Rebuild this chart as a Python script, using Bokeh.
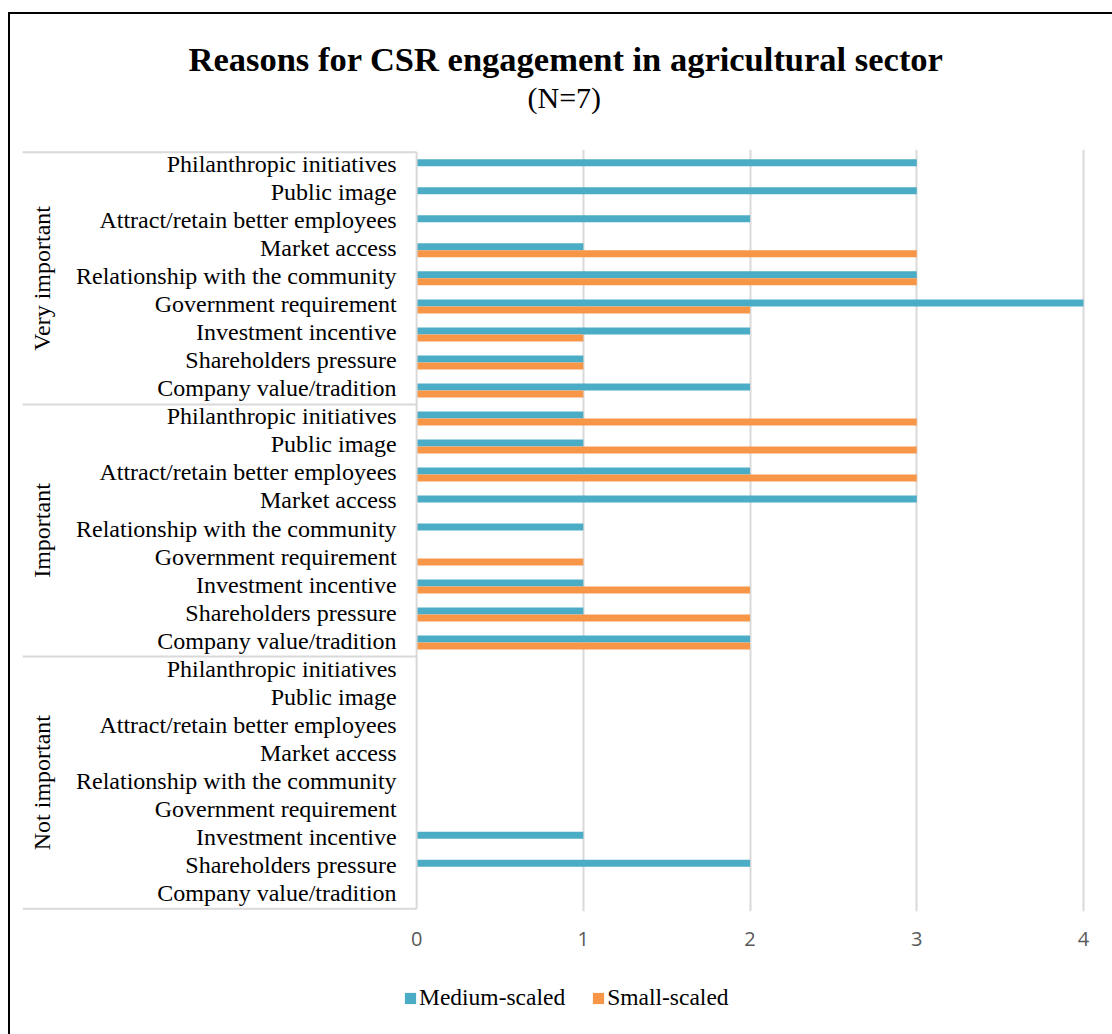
from bokeh.plotting import figure
from bokeh.layouts import column
from bokeh.models import (FactorRange, Range1d, ColumnDataSource, FixedTicker, Title,
                          Legend, LegendItem)
from bokeh.transform import dodge
from bokeh.core.properties import value
from bokeh.embed import file_html
from bokeh.resources import INLINE

# ---------------- data ----------------
groups = ["Very important", "Important", "Not important"]
reasons = ["Philanthropic initiatives", "Public image", "Attract/retain better employees",
           "Market access", "Relationship with the community", "Government requirement",
           "Investment incentive", "Shareholders pressure", "Company value/tradition"]
medium_very = [3, 3, 2, 1, 3, 4, 2, 1, 2]
small_very = [0, 0, 0, 3, 3, 2, 1, 1, 1]
medium_important = [1, 1, 2, 3, 1, 0, 1, 1, 2]
small_important = [3, 3, 3, 0, 0, 1, 2, 2, 2]
medium_not = [0, 0, 0, 0, 0, 0, 1, 2, 0]
small_not = [0, 0, 0, 0, 0, 0, 0, 0, 0]
x_ticks = [0, 1, 2, 3, 4]
series_names = ["Medium-scaled", "Small-scaled"]
title_text = "Reasons for CSR engagement in agricultural sector"
subtitle_text = "(N=7)"

BLUE = "#4BACC6"
ORANGE = "#F79646"
GRID = "#D9D9D9"
SERIF = "Liberation Serif"

factors = [(g, r) for g in groups for r in reasons]
medium = medium_very + medium_important + medium_not
small = small_very + small_important + small_not

src = ColumnDataSource(dict(y=factors, medium=medium, small=small, text=[f[1] for f in factors]))

y_range = FactorRange(factors=list(reversed(factors)), group_padding=0, factor_padding=0,
                      subgroup_padding=0, range_padding=0.1, range_padding_units="absolute")
x_range = Range1d(-2.364, 4.012)

W = 1106
p = figure(width=W, height=951, x_range=x_range, y_range=y_range,
           output_backend="svg", toolbar_location=None, y_axis_location=None,
           min_border_left=12, min_border_right=31, min_border_top=135,
           min_border_bottom=54)
p.outline_line_color = None
p.background_fill_color = "white"
p.border_fill_color = "white"

# grid
p.ygrid.grid_line_color = None
p.xgrid.ticker = FixedTicker(ticks=x_ticks[1:])
p.xgrid.grid_line_color = GRID
p.xgrid.grid_line_width = 2

# x axis
ax = p.xaxis[0]
ax.ticker = FixedTicker(ticks=x_ticks)
ax.axis_line_color = None
ax.major_tick_line_color = None
ax.minor_tick_line_color = None
ax.major_tick_out = 0
ax.major_label_standoff = 20
ax.major_label_text_font = "Open Sans"
ax.major_label_text_font_size = "20px"
ax.major_label_text_color = "#595959"

# bars
r_med = p.hbar(y=dodge("y", 0.125, range=y_range), left=0, right="medium", height=0.25,
               fill_color=BLUE, line_color=None, source=src)
r_small = p.hbar(y=dodge("y", -0.125, range=y_range), left=0, right="small", height=0.25,
                 fill_color=ORANGE, line_color=None, source=src)

# category axis line at 0 and group separators
p.segment(x0=[0], y0=[0], x1=[0], y1=[27], line_color=GRID, line_width=2)
p.segment(x0=[-2.364] * 4, y0=[0, 9, 18, 27], x1=[0] * 4, y1=[0, 9, 18, 27],
          line_color=GRID, line_width=2)

# category labels
p.text(x=-0.12, y="y", text="text", source=src, text_align="right", text_baseline="middle",
       y_offset=-2, text_font=value(SERIF), text_font_size="24px", text_color="black")

# group labels (rotated)
gsrc = ColumnDataSource(dict(y=groups, text=groups))
p.text(x=-2.245, y="y", text="text", source=gsrc, angle=1.5708, text_align="center",
       text_baseline="middle", text_font=value(SERIF), text_font_size="24px", text_color="black")

# titles (stacked outward from the frame: spacer, subtitle, title)
p.add_layout(Title(text=" ", text_font_size="1px", standoff=32.5), "above")
p.add_layout(Title(text=subtitle_text, align="left", offset=505, text_font=SERIF,
                   text_font_size="30px", text_font_style="normal", text_color="black",
                   standoff=0), "above")
p.add_layout(Title(text=title_text, align="left", offset=166, text_font=SERIF,
                   text_font_size="34.5px", text_font_style="bold", text_color="black",
                   standoff=2), "above")

# legend strip below the chart
p2 = figure(width=W, height=69, x_range=Range1d(0, 1), y_range=Range1d(0, 1),
            output_backend="svg", toolbar_location=None, x_axis_location=None,
            y_axis_location=None, min_border=0)
p2.outline_line_color = None
p2.xgrid.visible = False
p2.ygrid.visible = False
lg_med = p2.hbar(y=[0.5], left=[0], right=[0], height=0, fill_color=BLUE, line_color=None)
lg_small = p2.hbar(y=[0.5], left=[0], right=[0], height=0, fill_color=ORANGE, line_color=None)
legend = Legend(items=[LegendItem(label=series_names[0], renderers=[lg_med]),
                       LegendItem(label=series_names[1], renderers=[lg_small])],
                orientation="horizontal", location=(381, 23),
                glyph_width=14, glyph_height=14, label_standoff=2, spacing=26,
                label_text_font=SERIF, label_text_font_size="23.5px", label_text_color="black",
                border_line_color=None, background_fill_alpha=0, padding=0, margin=0)
p2.add_layout(legend, "center")

layout = column(p, p2, spacing=0)
layout.styles = {"margin-left": "8px", "margin-top": "12px",
                 "border-left": "2px solid black", "border-top": "2px solid black",
                 "border-right": "none", "border-bottom": "none"}

open("out.html", "w").write(file_html(layout, INLINE))
